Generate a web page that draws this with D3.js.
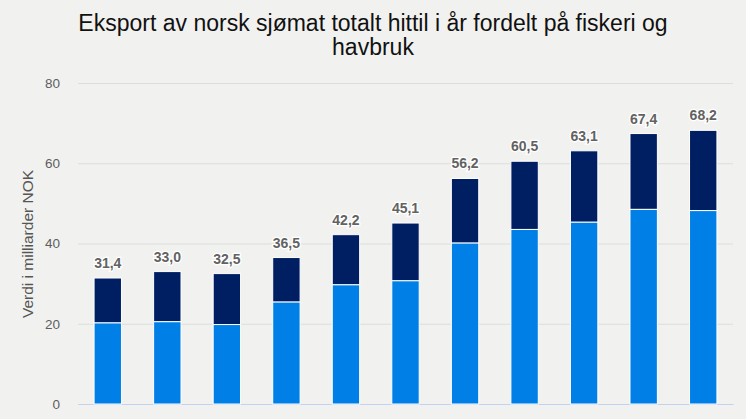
<!DOCTYPE html>
<html>
<head>
<meta charset="utf-8">
<script src="https://cdn.jsdelivr.net/npm/d3@7"></script>
<style>
  html, body { margin: 0; padding: 0; background: #f1f2f0; overflow: hidden; }
  svg { display: block; font-family: "Liberation Sans", Arial, sans-serif; }
</style>
</head>
<body>
<svg id="chart"></svg>
<script>
// data
var years = ["2010", "2011", "2012", "2013", "2014", "2015", "2016", "2017", "2018", "2019", "2020"];
var havbruk = [20.2, 20.5, 19.8, 25.4, 29.7, 30.7, 40.1, 43.5, 45.3, 48.5, 48.2];
var totalt = [31.4, 33.0, 32.5, 36.5, 42.2, 45.1, 56.2, 60.5, 63.1, 67.4, 68.2];
var yTicks = [0, 20, 40, 60, 80];

var width = 746, height = 419;
var margin = { top: 83, right: 13, bottom: 15, left: 78 };

var svg = d3.select("#chart").attr("width", width).attr("height", height);

var x = d3.scaleBand()
    .domain(years)
    .range([margin.left, width - margin.right])
    .paddingInner(0.54)
    .paddingOuter(0.27);

var y = d3.scaleLinear()
    .domain([0, 80])
    .range([height - margin.bottom, margin.top]);

//tittel
svg.append("text")
    .attr("x", width / 2).attr("y", 30.5)
    .attr("text-anchor", "middle")
    .style("font-size", "23px").style("fill", "#111")
    .text("Eksport av norsk sjømat totalt hittil i år fordelt på fiskeri og");
svg.append("text")
    .attr("x", width / 2).attr("y", 55)
    .attr("text-anchor", "middle")
    .style("font-size", "23px").style("fill", "#111")
    .text("havbruk");

//rutenett
var yAxis = svg.append("g")
    .attr("transform", "translate(" + margin.left + ",0)")
    .call(d3.axisLeft(y).tickValues(yTicks).tickSize(-(width - margin.left - margin.right)).tickPadding(18));
yAxis.select(".domain").remove();
yAxis.selectAll(".tick line").style("stroke", "#dcdedc");
yAxis.selectAll(".tick text")
    .style("font-size", "13.5px").style("fill", "#5e5e5e")
    .style("font-family", "Liberation Sans, Arial, sans-serif");

//aksetittel
svg.append("text")
    .attr("transform", "translate(32.5," + 244 + ") rotate(-90)")
    .attr("text-anchor", "middle")
    .style("font-size", "15.5px").style("fill", "#555")
    .text("Verdi i milliarder NOK");

//x-akse
var xAxis = svg.append("g")
    .attr("transform", "translate(0," + y(0) + ")")
    .call(d3.axisBottom(x).tickSize(0).tickPadding(15));
xAxis.select(".domain").style("stroke", "#c3d2f0");
xAxis.selectAll(".tick text")
    .style("font-size", "13.5px").style("fill", "#5e5e5e")
    .style("font-family", "Liberation Sans, Arial, sans-serif");

//stolper
var bars = svg.append("g").selectAll("g")
    .data(years)
    .join("g");

bars.append("rect")
    .attr("x", function (d) { return x(d); })
    .attr("width", x.bandwidth())
    .attr("y", function (d, i) { return y(totalt[i]); })
    .attr("height", function (d, i) { return y(havbruk[i]) - y(totalt[i]); })
    .style("fill", "#001e62")
    .style("stroke", "#fff").style("stroke-width", 1);

bars.append("rect")
    .attr("x", function (d) { return x(d); })
    .attr("width", x.bandwidth())
    .attr("y", function (d, i) { return y(havbruk[i]); })
    .attr("height", function (d, i) { return y(0) - y(havbruk[i]); })
    .style("fill", "#0080e6")
    .style("stroke", "#fff").style("stroke-width", 1);

//verdier
bars.append("text")
    .attr("x", function (d) { return x(d) + x.bandwidth() / 2; })
    .attr("y", function (d, i) { return y(totalt[i]) - 10; })
    .attr("text-anchor", "middle")
    .style("font-size", "14px").style("font-weight", "bold")
    .style("fill", "#626262")
    .style("paint-order", "stroke").style("stroke", "#fff").style("stroke-width", 2.5)
    .text(function (d, i) { return totalt[i].toFixed(1).replace(".", ","); });
</script>
</body>
</html>
